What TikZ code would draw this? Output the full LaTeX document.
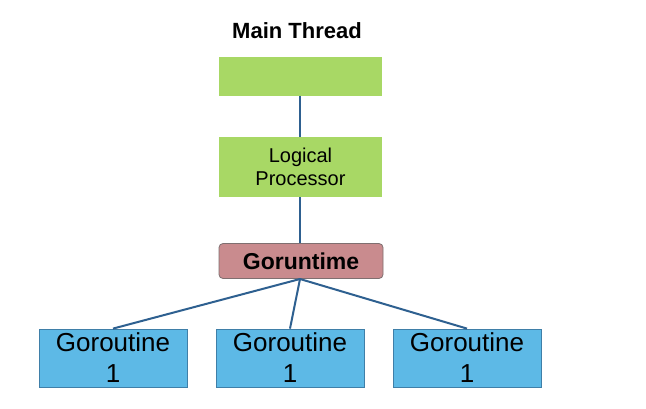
\documentclass[tikz,border=0pt]{standalone}
\usepackage{fontspec}
\setmainfont{Liberation Sans}
\begin{document}
\begin{tikzpicture}[x=1pt,y=-1pt,
  greenbox/.style={draw=none,fill=green!0!black!0,fill=greenc,minimum width=163pt,inner sep=0pt},
  gorobox/.style={draw=blueb,line width=0.8pt,fill=bluec,minimum width=148pt,minimum height=58pt,inner sep=0pt,align=center,font=\fontsize{26}{31}\selectfont},
  rtbox/.style={draw=redb,line width=0.8pt,fill=redc,rounded corners=4pt,minimum width=164pt,minimum height=35pt,inner sep=0pt,font=\fontsize{23}{27}\selectfont\bfseries},
  link/.style={draw=linec,line width=2pt}]
\definecolor{greenc}{HTML}{A8D865}
\definecolor{bluec}{HTML}{5DB9E6}
\definecolor{blueb}{HTML}{3F7FA8}
\definecolor{redc}{HTML}{C98B8E}
\definecolor{redb}{HTML}{7F6F70}
\definecolor{linec}{HTML}{2E6090}
\useasboundingbox[fill=white] (0,0) rectangle (646,408);
\node[font=\fontsize{22}{26}\selectfont\bfseries] (title) at (297,31) {Main Thread};
\node[greenbox,minimum height=39pt] (mt) at (300.5,76) {};
\node[greenbox,minimum height=60pt,align=center,font=\fontsize{20}{23}\selectfont] (lp) at (300.5,167) {Logical\\Processor};
\node[rtbox] (rt) at (301,261) {Goruntime};
\node[gorobox] (g1) at (113,358) {Goroutine\\1};
\node[gorobox] (g2) at (290,358) {Goroutine\\1};
\node[gorobox] (g3) at (467,358) {Goroutine\\1};
\coordinate (hub) at (300,279);
\path[link] (mt.south -| 300,0) -- (lp.north -| 300,0);
\path[link] (lp.south -| 300,0) -- (rt.north -| 300,0);
\path[link] (hub) -- (g1.north);
\path[link] (hub) -- (g2.north);
\path[link] (hub) -- (g3.north);
\end{tikzpicture}
\end{document}
